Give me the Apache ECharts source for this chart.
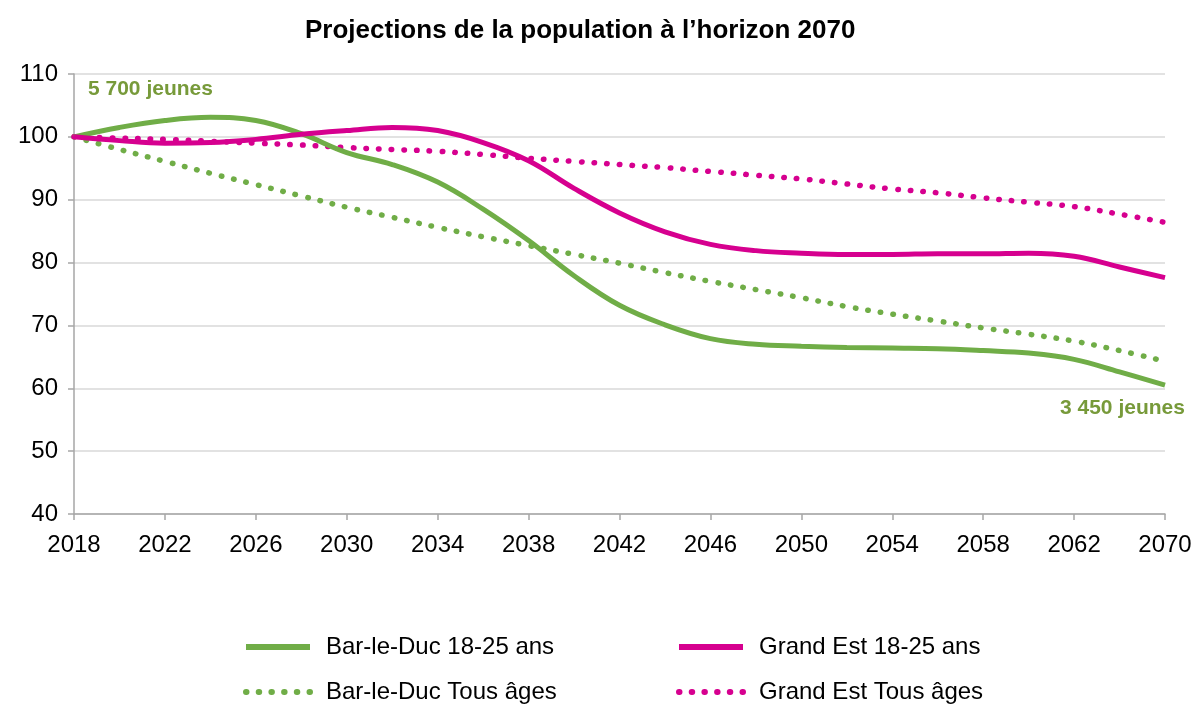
<!DOCTYPE html>
<html>
<head>
<meta charset="utf-8">
<script src="https://cdn.jsdelivr.net/npm/echarts@6/dist/echarts.min.js"></script>
<style>
    html, body { margin: 0; padding: 0; background: #fff; }
    #chart { width: 1202px; height: 708px; }
</style>
</head>
<body>
<div id="chart"></div>
<script>
// annees (pas de 2 ans, puis 2066 et 2070)
var years = ['2018', '2020', '2022', '2024', '2026', '2028', '2030', '2032', '2034', '2036', '2038', '2040',
    '2042', '2044', '2046', '2048', '2050', '2052', '2054', '2056', '2058', '2060', '2062', '2066', '2070'];

// indices base 100 en 2018
var barLeDuc1825 = [100, 101.5, 102.6, 103.1, 102.6, 100.5, 97.5, 95.6, 92.8, 88.5, 83.5, 77.9,
    73.2, 70.1, 67.9, 67.0, 66.7, 66.5, 66.4, 66.3, 66.0, 65.6, 64.6, 62.6, 60.5];
var grandEst1825 = [100, 99.4, 99.0, 99.1, 99.6, 100.4, 101.0, 101.5, 101.0, 99.1, 96.2, 91.8,
    87.9, 84.9, 82.9, 81.9, 81.5, 81.3, 81.3, 81.4, 81.4, 81.5, 81.0, 79.3, 77.6];
var barLeDucTous = [100, 98.0, 96.1, 94.2, 92.4, 90.6, 88.8, 87.2, 85.6, 84.1, 82.7, 81.3,
    79.9, 78.4, 77.0, 75.7, 74.4, 73.0, 71.8, 70.7, 69.6, 68.6, 67.5, 66.0, 64.3];
var grandEstTous = [100, 99.8, 99.6, 99.3, 99.0, 98.7, 98.3, 98.0, 97.7, 97.2, 96.6, 96.1,
    95.6, 95.1, 94.5, 93.9, 93.3, 92.5, 91.7, 91.1, 90.3, 89.6, 88.9, 87.7, 86.4];

var yTicks = { min: 40, max: 110, step: 10 };

var GREEN = '#70AD47';
var PINK = '#D6008F';
var LABEL_GREEN = '#779A3A';
var FONT = '"Liberation Sans", Arial, sans-serif';

var PopChart = echarts.init(document.getElementById('chart'));

function legendItem(name, left, top) {
    return {
        data: [name],
        left: left,
        top: top,
        padding: 0,
        itemWidth: 64,
        itemHeight: 14,
        itemStyle: { opacity: 0 },
        lineStyle: { width: 6 },
        textStyle: { fontFamily: FONT, fontSize: 24, color: '#000', padding: [0, 0, 0, 11] },
        selectedMode: false
    };
}

function solidLine(name, data, color) {
    return {
        name: name,
        type: 'line',
        data: data,
        smooth: 0.4,
        symbol: 'none',
        lineStyle: { color: color, width: 5 },
        itemStyle: { color: color }
    };
}

function dotLine(name, data, color) {
    return {
        name: name,
        type: 'line',
        data: data,
        smooth: 0.4,
        symbol: 'none',
        lineStyle: { color: color, width: 5.5, type: [0.5, 12.2], cap: 'round' },
        itemStyle: { color: color }
    };
}

var option = {
    backgroundColor: '#fff',
    animation: false,
    title: {
        text: 'Projections de la population à l’horizon 2070',
        left: 300,
        top: 13,
        textStyle: { fontFamily: FONT, fontSize: 26, fontWeight: 'bold', color: '#000' }
    },
    legend: [
        legendItem('Bar-le-Duc 18-25 ans', 243, 635),
        legendItem('Grand Est 18-25 ans', 676, 635),
        legendItem('Bar-le-Duc Tous âges', 243, 680),
        legendItem('Grand Est Tous âges', 676, 680)
    ],
    grid: { left: 74, right: 37, top: 74, bottom: 194 },
    xAxis: {
        type: 'category',
        data: years,
        boundaryGap: false,
        axisLine: { lineStyle: { color: '#A6A6A6', width: 1.5 } },
        axisTick: { interval: 1, length: 6, lineStyle: { color: '#A6A6A6', width: 1.5 } },
        axisLabel: { interval: 1, fontFamily: FONT, fontSize: 24, color: '#000', margin: 19 },
        splitLine: { show: false }
    },
    yAxis: {
        type: 'value',
        min: yTicks.min,
        max: yTicks.max,
        interval: yTicks.step,
        axisLine: { show: true, lineStyle: { color: '#A6A6A6', width: 1.5 } },
        axisTick: { show: true, length: 6, lineStyle: { color: '#A6A6A6', width: 1.5 } },
        axisLabel: { fontFamily: FONT, fontSize: 24, color: '#000', margin: 16 },
        splitLine: { lineStyle: { color: '#D9D9D9', width: 1.5 } }
    },
    graphic: [
        {
            type: 'text', left: 88, top: 79,
            style: { text: '5 700 jeunes', fontFamily: FONT, fontSize: 21, fontWeight: 'bold', fill: LABEL_GREEN }
        },
        {
            type: 'text', left: 1060, top: 398,
            style: { text: '3 450 jeunes', fontFamily: FONT, fontSize: 21, fontWeight: 'bold', fill: LABEL_GREEN }
        }
    ],
    series: [
        dotLine('Bar-le-Duc Tous âges', barLeDucTous, GREEN),
        dotLine('Grand Est Tous âges', grandEstTous, PINK),
        solidLine('Bar-le-Duc 18-25 ans', barLeDuc1825, GREEN),
        solidLine('Grand Est 18-25 ans', grandEst1825, PINK)
    ]
};
PopChart.setOption(option);
</script>
</body>
</html>
